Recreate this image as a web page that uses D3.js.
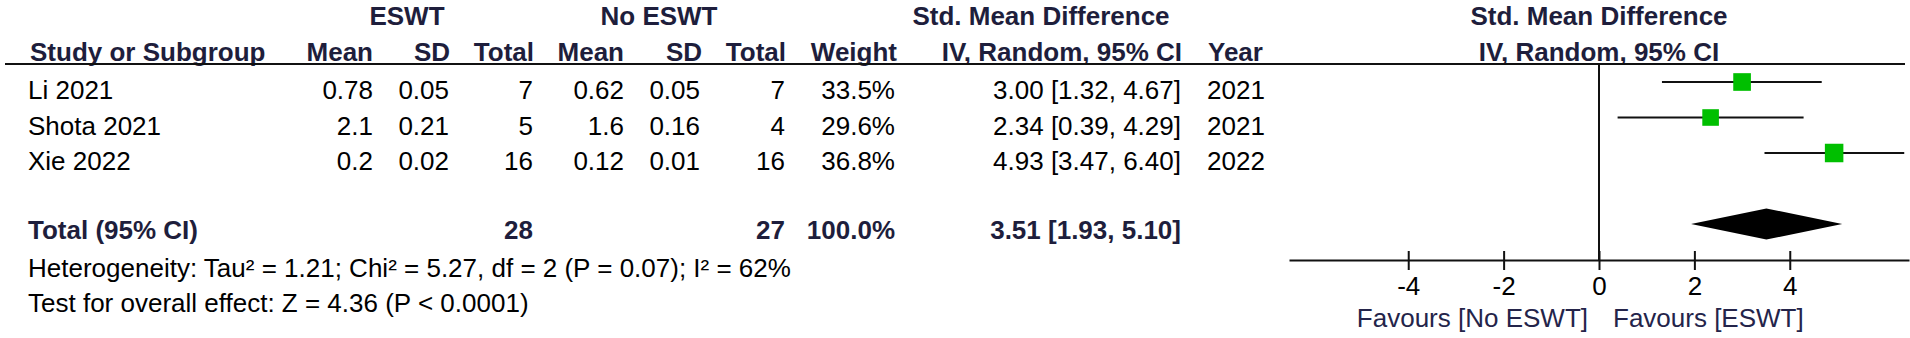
<!DOCTYPE html>
<html>
<head>
<meta charset="utf-8">
<script src="https://cdn.jsdelivr.net/npm/d3@7/dist/d3.min.js"></script>
<style>
  body { margin: 0; background: #fff; }
  svg { display: block; font-family: "Liberation Sans", Arial, sans-serif; }
  .hd { font-weight: bold; fill: #1e1e3c; font-size: 26px; }
  .tx { fill: #000; font-size: 26px; }
  .fav { fill: #24244a; font-size: 26px; }
</style>
</head>
<body>
<div id="chart"></div>
<script>
// study data
const studies = ["Li 2021", "Shota 2021", "Xie 2022"];
const eswtMean = [0.78, 2.1, 0.2];
const eswtSD = [0.05, 0.21, 0.02];
const eswtTotal = [7, 5, 16];
const ctrlMean = [0.62, 1.6, 0.12];
const ctrlSD = [0.05, 0.16, 0.01];
const ctrlTotal = [7, 4, 16];
const weights = [33.5, 29.6, 36.8];
const smd = [3.00, 2.34, 4.93];
const ciLow = [1.32, 0.39, 3.47];
const ciHigh = [4.67, 4.29, 6.40];
const years = [2021, 2021, 2022];

// pooled result
const pooled = [3.51, 1.93, 5.10]; // estimate, low, high
const groupTotals = [28, 27];
const xTicks = [-4, -2, 0, 2, 4];

const width = 1910;
const height = 338;

const svg = d3.select("#chart")
  .append("svg")
  .attr("width", width)
  .attr("height", height);

// scales
const x = d3.scaleLinear().domain([-6.5, 6.5]).range([1289, 1909]);
const rowY = d3.scaleLinear().domain([0, studies.length - 1]).range([99, 170]); // text baselines
const totalY = 239;
const sq = d3.scaleSqrt().domain([0, 100]).range([0, 30.5]);

const fmtCI = (e, l, h) => e.toFixed(2) + " [" + l.toFixed(2) + ", " + h.toFixed(2) + "]";

// header
const head1 = [
  {t: "ESWT", x: 407, a: "middle"},
  {t: "No ESWT", x: 659, a: "middle"},
  {t: "Std. Mean Difference", x: 1041, a: "middle"},
  {t: "Std. Mean Difference", x: x(0), a: "middle"}
];
const head2 = [
  {t: "Study or Subgroup", x: 30, a: "start"},
  {t: "Mean", x: 373, a: "end"},
  {t: "SD", x: 450, a: "end"},
  {t: "Total", x: 534, a: "end"},
  {t: "Mean", x: 624, a: "end"},
  {t: "SD", x: 702, a: "end"},
  {t: "Total", x: 786, a: "end"},
  {t: "Weight", x: 897, a: "end"},
  {t: "IV, Random, 95% CI", x: 1182, a: "end"},
  {t: "Year", x: 1208, a: "start"},
  {t: "IV, Random, 95% CI", x: x(0), a: "middle"}
];
svg.selectAll(".h1").data(head1).enter().append("text")
  .attr("class", "hd").attr("x", d => d.x).attr("y", 25)
  .attr("text-anchor", d => d.a).text(d => d.t);
svg.selectAll(".h2").data(head2).enter().append("text")
  .attr("class", "hd").attr("x", d => d.x).attr("y", 61)
  .attr("text-anchor", d => d.a).text(d => d.t);

svg.append("line")
  .attr("x1", 5).attr("x2", 1905).attr("y1", 64).attr("y2", 64)
  .attr("stroke", "#111").attr("stroke-width", 2);

// table columns
const cols = [
  {x: 28, a: "start", v: i => studies[i]},
  {x: 373, a: "end", v: i => String(eswtMean[i])},
  {x: 449, a: "end", v: i => String(eswtSD[i])},
  {x: 533, a: "end", v: i => String(eswtTotal[i])},
  {x: 624, a: "end", v: i => String(ctrlMean[i])},
  {x: 700, a: "end", v: i => String(ctrlSD[i])},
  {x: 785, a: "end", v: i => String(ctrlTotal[i])},
  {x: 895, a: "end", v: i => weights[i].toFixed(1) + "%"},
  {x: 1181, a: "end", v: i => fmtCI(smd[i], ciLow[i], ciHigh[i])},
  {x: 1207, a: "start", v: i => String(years[i])}
];

const rows = svg.selectAll(".row").data(studies).enter().append("g").attr("class", "row");
cols.forEach(c => {
  rows.append("text")
    .attr("class", "tx")
    .attr("x", c.x)
    .attr("y", (d, i) => rowY(i))
    .attr("text-anchor", c.a)
    .text((d, i) => c.v(i));
});

// total row
const totalCells = [
  {t: "Total (95% CI)", x: 28, a: "start"},
  {t: String(groupTotals[0]), x: 533, a: "end"},
  {t: String(groupTotals[1]), x: 785, a: "end"},
  {t: "100.0%", x: 895, a: "end"},
  {t: fmtCI(pooled[0], pooled[1], pooled[2]), x: 1181, a: "end"}
];
svg.selectAll(".tot").data(totalCells).enter().append("text")
  .attr("class", "hd").attr("x", d => d.x).attr("y", totalY)
  .attr("text-anchor", d => d.a).text(d => d.t);

svg.append("text").attr("class", "tx").attr("x", 28).attr("y", 277)
  .text("Heterogeneity: Tau\u00b2 = 1.21; Chi\u00b2 = 5.27, df = 2 (P = 0.07); I\u00b2 = 62%");
svg.append("text").attr("class", "tx").attr("x", 28).attr("y", 312)
  .text("Test for overall effect: Z = 4.36 (P < 0.0001)");

// forest plot
const axisY = 260;

svg.append("line")
  .attr("x1", x(0)).attr("x2", x(0)).attr("y1", 64).attr("y2", axisY)
  .attr("stroke", "#111").attr("stroke-width", 2);

const marks = svg.selectAll(".mk").data(studies).enter().append("g");
marks.append("line")
  .attr("x1", (d, i) => x(ciLow[i]))
  .attr("x2", (d, i) => x(ciHigh[i]))
  .attr("y1", (d, i) => rowY(i) - 17)
  .attr("y2", (d, i) => rowY(i) - 17)
  .attr("stroke", "#111").attr("stroke-width", 2);
marks.append("rect")
  .attr("x", (d, i) => x(smd[i]) - sq(weights[i]) / 2)
  .attr("y", (d, i) => rowY(i) - 17 - sq(weights[i]) / 2)
  .attr("width", (d, i) => sq(weights[i]))
  .attr("height", (d, i) => sq(weights[i]))
  .attr("fill", "#00bf00");

// pooled diamond
const dy = totalY - 15;
svg.append("path")
  .attr("d", "M" + x(pooled[1]) + "," + dy +
    "L" + x(pooled[0]) + "," + (dy - 15.5) +
    "L" + x(pooled[2]) + "," + dy +
    "L" + x(pooled[0]) + "," + (dy + 15.5) + "Z")
  .attr("fill", "#000");

// axis
const xAxis = d3.axisBottom(x)
  .tickValues(xTicks)
  .tickFormat(d => String(d))
  .tickSizeOuter(0)
  .tickSizeInner(10);

const ax = svg.append("g")
  .attr("transform", "translate(0," + axisY + ")")
  .call(xAxis);
ax.select(".domain").attr("stroke", "#111").attr("stroke-width", 2);
ax.selectAll(".tick line").attr("y1", -9).attr("y2", 10)
  .attr("stroke", "#111").attr("stroke-width", 2);
ax.selectAll(".tick text")
  .attr("y", 35).attr("dy", null)
  .attr("font-size", 26).attr("font-family", "Liberation Sans, Arial, sans-serif")
  .attr("fill", "#000");

svg.append("text").attr("class", "fav").attr("x", x(0) - 11).attr("y", 327)
  .attr("text-anchor", "end").text("Favours [No ESWT]");
svg.append("text").attr("class", "fav").attr("x", x(0) + 14).attr("y", 327)
  .text("Favours [ESWT]");
</script>
</body>
</html>
